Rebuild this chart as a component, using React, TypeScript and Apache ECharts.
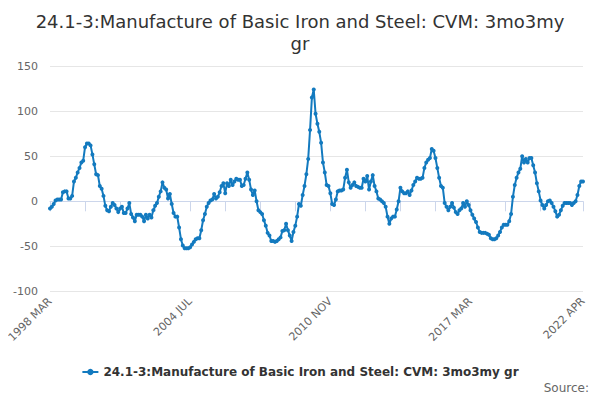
import React, { useEffect, useRef } from "react";
import * as echarts from "echarts";

const TITLE = "24.1-3:Manufacture of Basic Iron and Steel: CVM: 3mo3my\ngr";
const SERIES_NAME = "24.1-3:Manufacture of Basic Iron and Steel: CVM: 3mo3my gr";
const START_YEAR = 1998;
const START_MONTH = 2; // March (0-based)
const MONTHS = ["JAN", "FEB", "MAR", "APR", "MAY", "JUN", "JUL", "AUG", "SEP", "OCT", "NOV", "DEC"];

const values1998to2009 = [
  -8, -6, -3, 1, 2, 2, 2, 10, 11, 11, 3, 3, 6, 22, 26, 32, 37, 43, 45, 60,
  64, 64, 62, 52, 41, 30, 29, 17, 14, 6, -5, -10, -11, -6, -2, -4, -8, -12, -8, -6,
  -13, -13, -8, -2, -14, -18, -22, -15, -15, -15, -17, -22, -15, -19, -15, -18, -10, -5, -2, 5,
  11, 21, 15, 13, 3, 8, -3, -13, -17, -17, -29, -42, -49, -52, -52, -52, -51, -48, -45, -42,
  -41, -41, -32, -21, -14, -6, -2, 1, 2, 8, 3, 5, 10, 17, 20, 9, 20, 17, 24, 18,
  22, 25, 24, 24, 17, 18, 25, 32, 24, 13, 7, 12, 0, -10, -12, -14, -21, -27, -35, -38,
  -44, -44, -45, -44, -42, -40, -33, -32, -25, -32, -38, -44, -34, -27, -17, -3,
];
const values2009to2022 = [
  -5, 7, 17, 30, 47, 79, 115, 124, 97, 86, 77, 65, 43, 32, 18, 17, 9, -3, -4, 2,
  11, 12, 12, 13, 26, 35, 21, 15, 18, 21, 17, 16, 15, 15, 25, 22, 28, 13, 22, 29,
  17, 11, 3, 2, 0, -2, -6, -17, -25, -19, -17, -17, -9, 0, 15, 11, 9, 9, 11, 7,
  12, 18, 22, 26, 25, 25, 26, 37, 43, 46, 48, 58, 56, 48, 37, 26, 17, 15, -2, -6,
  -10, -6, -2, -7, -12, -14, -10, -8, -2, -6, 0, -4, -10, -15, -19, -23, -29, -34, -35, -35,
  -35, -36, -37, -41, -42, -42, -41, -38, -34, -29, -26, -26, -26, -22, -14, 5, 18, 26, 32, 36,
  50, 43, 47, 43, 48, 48, 40, 32, 20, 11, 1, -4, -8, -4, 0, 1, -2, -6, -11, -17,
  -15, -10, -5, -2, -2, -2, -2, -4, -2, 0, 7, 17, 22, 22,
];
const values = [...values1998to2009, ...values2009to2022];

const categories = values.map((_, i) => {
  const m = START_MONTH + i;
  return `${START_YEAR + Math.floor(m / 12)} ${MONTHS[m % 12]}`;
});

const Y_MIN = -100;
const Y_MAX = 150;
const Y_STEP = 50;
const TICK_EVERY = 19;
const LABEL_EVERY = 76;

export default function App() {
  const ref = useRef<HTMLDivElement>(null);
  useEffect(() => {
    if (!ref.current) return;
    const chart = echarts.init(ref.current, null, { renderer: "svg" });
    const last = categories.length - 1;
    const font = "'DejaVu Sans', Verdana, sans-serif";
    chart.setOption({
      animation: false,
      textStyle: { fontFamily: font },
      title: {
        text: TITLE,
        left: "center",
        top: 5,
        textStyle: { fontSize: 18, fontWeight: "normal", color: "#333", fontFamily: font, lineHeight: 22 },
      },
      grid: { left: 50, right: 17, top: 66, bottom: 108.5, containLabel: false },
      xAxis: {
        type: "category",
        data: categories,
        boundaryGap: false,
        axisLine: { lineStyle: { color: "#ccd6eb" } },
        axisTick: {
          lineStyle: { color: "#ccd6eb" },
          length: 10,
          interval: (i: number) => (i % TICK_EVERY === 0 && i < last - 10) || i === last,
        },
        axisLabel: {
          rotate: 45,
          color: "#666",
          fontSize: 11,
          fontFamily: font,
          margin: 8,
          interval: (i: number) => i % LABEL_EVERY === 0 || i === last,
        },
        splitLine: { show: false },
      },
      yAxis: {
        type: "value",
        min: Y_MIN,
        max: Y_MAX,
        interval: Y_STEP,
        axisLine: { show: false },
        axisTick: { show: false },
        axisLabel: { color: "#666", fontSize: 11, fontFamily: font, margin: 12 },
        splitLine: { lineStyle: { color: "#e6e6e6" } },
      },
      legend: {
        bottom: 17,
        left: "center",
        itemWidth: 16,
        itemHeight: 8,
        itemGap: 10,
        textStyle: { fontSize: 12, fontWeight: "bold", color: "#333", fontFamily: font },
        data: [SERIES_NAME],
      },
      graphic: [
        {
          type: "text",
          right: 11,
          bottom: 6,
          style: { text: "Source:", fill: "#666", fontSize: 12, fontFamily: font },
        },
      ],
      series: [
        {
          name: SERIES_NAME,
          type: "line",
          data: values,
          symbol: "circle",
          symbolSize: 4,
          showAllSymbol: true,
          lineStyle: { color: "#137abf", width: 2 },
          itemStyle: { color: "#137abf" },
        },
      ],
    });
    return () => chart.dispose();
  }, []);
  return <div ref={ref} style={{ width: 600, height: 400, margin: -8 }} />;
}
